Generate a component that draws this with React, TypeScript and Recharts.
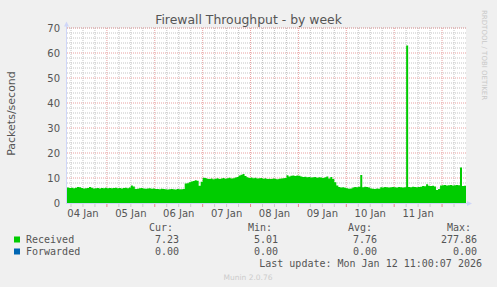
import { Area, CartesianGrid, ComposedChart, XAxis, YAxis } from "recharts";

// hours are counted from 05 Jan 00:00, one sample per hour
const START_HOUR = -20;
const END_HOUR = 180;

const received = [
	6.2, 6.0, 6.1, 5.9, 6.1, 6.4, 6.3, 6.0, 5.8, 5.9, 6.0, 6.4, 6.1,
	5.8, 5.9, 6.0, 5.8, 6.0, 5.9, 6.1, 5.9,
	6.0, 5.9, 6.0, 6.1, 5.9, 6.0, 5.8, 6.0, 6.1, 5.9, 6.2,
	7.0, 6.6,
	5.6, 5.7, 5.9, 6.0, 5.8, 5.7, 5.8, 5.9, 5.7, 5.8, 5.6,
	5.6, 5.5, 5.7, 5.6, 5.5, 5.4, 5.5, 5.6, 5.5, 5.4, 5.6, 5.5, 5.5, 5.6,
	7.8, 7.9, 8.3, 8.6, 8.8, 9.1, 8.9, 6.9, 8.5, 10.1, 10.0,
	9.7, 9.6, 9.8, 9.5, 9.7, 9.9, 9.6, 9.8, 10.0, 9.7, 9.9, 10.1, 9.8, 9.9, 10.2, 10.4,
	11.0, 11.3, 11.6, 10.8,
	10.3, 10.0, 10.2, 9.9, 10.1, 9.8, 9.9, 10.0, 9.7, 9.9, 9.6,
	9.7, 9.6, 9.8, 9.7, 9.5, 9.7, 9.8, 9.9, 10.0,
	11.1,
	10.6, 10.9, 11.0, 10.8, 11.0, 10.9, 10.6, 10.4, 10.5, 10.3,
	10.4, 10.2, 10.3, 10.4, 10.1, 10.3, 10.2, 10.0, 10.3, 10.6,
	9.8, 10.4, 9.6, 8.3,
	7.0, 6.4, 6.2, 6.3, 6.1, 5.9, 5.7, 5.8,
	6.2, 6.4, 6.3, 6.5, 11.2, 6.3, 6.5, 6.4, 6.2,
	5.8, 5.7, 5.6, 5.8, 5.7,
	6.3, 6.2, 6.4, 6.3, 6.2, 6.3, 6.4, 6.3, 6.2, 6.4, 6.3, 6.2, 6.3,
	63.0,
	6.4, 6.3, 6.5, 6.4, 6.3, 6.4, 6.5,
	6.8, 6.7, 7.5, 6.9, 6.8, 6.9, 6.6, 5.2, 5.6,
	7.0, 7.1, 7.2, 7.0, 7.1, 7.2, 7.0, 7.1, 7.2, 7.1,
	14.2,
	6.8, 6.9, 7.23,
];

const dayLabels = ["04 Jan", "05 Jan", "06 Jan", "07 Jan", "08 Jan", "09 Jan", "10 Jan", "11 Jan"];
const dayNoons = [-12, 12, 36, 60, 84, 108, 132, 156];
const midnights = [0, 24, 48, 72, 96, 120, 144, 168];
const yTicks = [0, 10, 20, 30, 40, 50, 60, 70];

const seriesNames = ["Received", "Forwarded"];
const seriesColors = ["#00cc00", "#0066b3"];
const curValues = ["7.23", "0.00"];
const minValues = ["5.01", "0.00"];
const avgValues = ["7.76", "0.00"];
const maxValues = ["277.86", "0.00"];

const data = received.map((v, i) => ({ h: START_HOUR + i, received: v }));

const sixHours = Array.from({ length: 34 }, (_, i) => -18 + i * 6).filter(
	(h) => h < END_HOUR && !midnights.includes(h),
);
const minorY = Array.from({ length: 36 }, (_, i) => i * 2).filter((v) => v % 10 !== 0);

const FONT = "'DejaVu Sans', sans-serif";
const MONO = "'DejaVu Sans Mono', monospace";
const TEXT = "#555555";
const GRID = "#c4c4c4";
const MGRID = "#e8a0a0";

const W = 497;
const H = 287;
// plot box: x 67..466, y 28..203
const MARGIN = { top: 28, right: 31, bottom: 64, left: 0 };
const FRONT_MARGIN = { top: 28, right: 31, bottom: 84, left: 67 };

const DayTick = (props: any) => {
	const { x, y, payload } = props;
	const h = Number(payload.value);
	const idx = dayNoons.indexOf(h);
	const isMidnight = midnights.includes(h);
	return (
		<g>
			<line
				x1={x}
				x2={x}
				y1={y - 6}
				y2={y - 3}
				stroke={isMidnight ? "#e88a8a" : "#cccccc"}
			/>
			{idx >= 0 ? (
				<text x={x} y={y} dy="0.71em" textAnchor="middle" fill={TEXT} fontSize={10} fontFamily={FONT}>
					{dayLabels[idx]}
				</text>
			) : null}
		</g>
	);
};

export default function App() {
	const columns = [
		{ head: "Cur:", headX: 149, endX: 179, vals: curValues },
		{ head: "Min:", headX: 248, endX: 278, vals: minValues },
		{ head: "Avg:", headX: 348, endX: 377, vals: avgValues },
		{ head: "Max:", headX: 447, endX: 477, vals: maxValues },
	];
	const allTicks = [...sixHours, ...midnights, ...dayNoons.filter((n) => !sixHours.includes(n))].sort(
		(a, b) => a - b,
	);

	return (
		<div style={{ position: "relative", width: W, height: H, background: "#f0f0f0" }}>
			<style>{"body{margin:0}"}</style>
			{/* back layer: canvas, grid, axes labels */}
			<div style={{ position: "absolute", left: 0, top: 0 }}>
				<ComposedChart width={W} height={H} data={data} margin={MARGIN}>
					<CartesianGrid
						yAxisId="minor"
						verticalValues={sixHours}
						stroke={GRID}
						strokeDasharray="1 1"
						fill="#ffffff"
						fillOpacity={1}
					/>
					<CartesianGrid verticalValues={midnights} stroke={MGRID} strokeDasharray="1 1" />
					<XAxis
						dataKey="h"
						type="number"
						domain={[START_HOUR, END_HOUR]}
						ticks={allTicks}
						interval={0}
						allowDataOverflow
						height={20}
						tickSize={0}
						tickMargin={7}
						axisLine={false}
						tickLine={false}
						tick={<DayTick />}
					/>
					<YAxis
						type="number"
						domain={[0, 70]}
						ticks={yTicks}
						interval={0}
						allowDataOverflow
						width={67}
						tickSize={0}
						tickMargin={7}
						axisLine={false}
						tickLine={false}
						tick={{ fill: TEXT, fontSize: 10, fontFamily: FONT }}
					/>
					<YAxis
						yAxisId="minor"
						type="number"
						domain={[0, 70]}
						ticks={minorY}
						interval={0}
						allowDataOverflow
						hide
					/>
				</ComposedChart>
			</div>
			{/* front layer: the data area, drawn over the grid */}
			<div style={{ position: "absolute", left: 0, top: 0 }}>
				<ComposedChart width={W} height={H} data={data} margin={FRONT_MARGIN}>
					<XAxis dataKey="h" type="number" domain={[START_HOUR, END_HOUR]} allowDataOverflow hide />
					<YAxis type="number" domain={[0, 70]} allowDataOverflow hide />
					<Area
						type="stepAfter"
						dataKey="received"
						fill={seriesColors[0]}
						fillOpacity={1}
						stroke="none"
						isAnimationActive={false}
					/>
				</ComposedChart>
			</div>
			<svg
				width={W}
				height={H}
				style={{ position: "absolute", left: 0, top: 0, pointerEvents: "none" }}
			>
				<text x={248.5} y={24} textAnchor="middle" fill={TEXT} fontSize={12.4} fontFamily={FONT}>
					Firewall Throughput - by week
				</text>
				<text
					x={15}
					y={113.5}
					transform="rotate(-90 15 113.5)"
					textAnchor="middle"
					fill={TEXT}
					fontSize={11}
					fontFamily={FONT}
				>
					Packets/second
				</text>
				<text
					transform="translate(482 10) rotate(90)"
					fill="#c8c8c8"
					fontSize={7}
					fontFamily={FONT}
				>
					RRDTOOL / TOBI OETIKER
				</text>
				{/* axes with arrows */}
				<line x1={66.5} x2={66.5} y1={26} y2={203.5} stroke="#cfd6f8" />
				<polygon points="64,26.5 69,26.5 66.5,21.5" fill="#cfd6f8" />
				<line x1={66} x2={468} y1={203.5} y2={203.5} stroke="#cfd6f8" />
				<polygon points="467,201 467,206 472,203.5" fill="#cfd6f8" />

				{columns.map((c) => (
					<text key={c.head} x={c.headX} y={231} fill={TEXT} fontSize={10} fontFamily={MONO}>
						{c.head}
					</text>
				))}
				{seriesNames.map((name, r) => (
					<g key={name}>
						<rect x={14} y={236.5 + r * 12} width={6} height={6} fill={seriesColors[r]} />
						<text x={26} y={243 + r * 12} fill={TEXT} fontSize={10} fontFamily={MONO}>
							{name}
						</text>
						{columns.map((c) => (
							<text
								key={c.head}
								x={c.endX}
								y={243 + r * 12}
								textAnchor="end"
								fill={TEXT}
								fontSize={10}
								fontFamily={MONO}
							>
								{c.vals[r]}
							</text>
						))}
					</g>
				))}
				<text x={482} y={267} textAnchor="end" fill={TEXT} fontSize={10} fontFamily={MONO}>
					Last update: Mon Jan 12 11:00:07 2026
				</text>
				<text x={248} y={279.5} textAnchor="middle" fill="#cccccc" fontSize={7.5} fontFamily={FONT}>
					Munin 2.0.76
				</text>
			</svg>
		</div>
	);
}
